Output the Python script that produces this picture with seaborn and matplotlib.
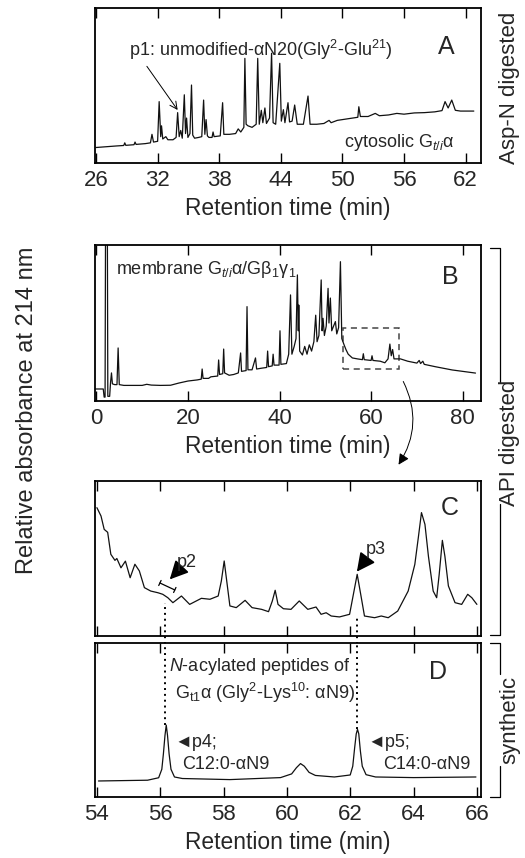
"""
HPLC chromatograms of Gt/i alpha digests (panels A-D), redrawn with seaborn.
"""

# %% ---- Requirements and constants
import pandas as pd
import seaborn as sns
import matplotlib.pyplot as plt
from matplotlib.patches import Rectangle, FancyArrowPatch
from matplotlib.lines import Line2D

# Panel A: Asp-N digest of cytosolic Gt/i alpha (trace)
a_time = [26.0, 27.0, 28.0, 28.7, 28.8, 28.9, 29.7, 29.8, 29.9, 30.8,
          31.3, 31.45, 31.6, 32.0, 32.15, 32.3, 32.38, 32.5, 32.8, 33.0,
          33.5, 33.8, 33.95, 34.1, 34.25, 34.4, 34.6, 34.72, 34.82, 34.95,
          35.15, 35.3, 35.42, 35.6, 36.0, 36.3, 36.48, 36.6, 36.72, 36.85,
          37.0, 37.3, 37.4, 37.5, 38.1, 38.33, 38.45, 39.0, 39.6, 39.85,
          40.1, 40.4, 40.5, 40.62, 40.8, 41.2, 41.6, 41.75, 41.9, 42.1,
          42.25, 42.45, 42.6, 42.9, 43.1, 43.25, 43.5, 43.9, 44.05, 44.25,
          44.4, 44.7, 44.85, 45.1, 45.35, 45.6, 46.2, 46.65, 46.85, 47.5,
          48.2, 48.7, 48.9, 49.5, 50.0, 50.5, 51.0, 51.5, 51.6, 51.75,
          52.5, 53.2, 53.6, 54.5, 55.3, 56.0, 57.0, 58.0, 59.0, 59.7,
          60.0, 60.3, 60.65, 61.0, 61.5, 62.8]
a_abs = [10.0, 10.5, 11.0, 11.3, 13.0, 11.4, 11.8, 13.5, 12.0, 12.5,
         13.0, 18.5, 13.5, 14.0, 39.6, 17.0, 24.0, 15.5, 17.0, 15.0,
         15.0, 16.5, 32.5, 17.0, 21.0, 16.0, 44.0, 19.0, 29.0, 16.5,
         19.0, 50.3, 18.0, 16.0, 16.5, 17.0, 40.6, 18.5, 28.0, 17.5,
         16.5, 16.5, 20.0, 17.0, 17.5, 38.9, 18.5, 18.5, 19.0, 22.0,
         20.0, 23.0, 67.5, 25.0, 24.0, 23.0, 25.0, 67.5, 25.0, 34.0,
         26.0, 35.5, 25.5, 29.0, 70.8, 26.0, 25.0, 64.3, 27.0, 34.4,
         26.0, 38.9, 26.5, 27.0, 37.4, 25.0, 25.0, 43.2, 25.0, 25.0,
         25.5, 27.5, 26.0, 27.5, 28.0, 28.5, 29.0, 29.5, 36.3, 30.0,
         30.0, 32.0, 30.5, 31.0, 32.0, 31.5, 32.3, 32.5, 33.0, 33.8,
         39.6, 35.5, 40.6, 34.0, 33.5, 33.5]

# Panel B: API digest of membrane Gt/i alpha / Gbeta1gamma1
b_time = [-0.3, 1.5, 1.7, 1.9, 2.0, 2.4, 2.5, 2.9, 3.1, 3.3,
          3.5, 4.0, 4.5, 4.75, 5.0, 6.0, 8.0, 10.0, 11.0, 12.0,
          14.0, 16.2, 18.0, 20.0, 22.0, 22.9, 23.1, 23.3, 24.5, 25.0,
          26.5, 26.7, 26.9, 27.6, 27.8, 28.0, 29.0, 30.0, 31.0, 31.5,
          31.7, 32.7, 32.9, 33.1, 34.0, 34.75, 35.0, 36.0, 37.2, 37.4,
          37.6, 38.4, 38.6, 38.8, 39.9, 40.1, 40.3, 41.5, 42.0, 42.4,
          42.7, 43.2, 43.6, 43.9, 44.1, 44.2, 44.4, 45.0, 45.5, 46.0,
          46.5, 47.0, 47.5, 47.9, 48.2, 48.6, 49.1, 49.3, 49.5, 49.8,
          50.2, 50.6, 50.8, 51.1, 51.4, 51.8, 52.2, 52.5, 52.9, 53.3,
          53.6, 54.1, 54.5, 55.0, 55.9, 57.0, 58.1, 58.3, 58.5, 60.0,
          60.2, 60.4, 62.0, 63.0, 63.7, 64.1, 64.4, 64.7, 65.0, 66.4,
          68.0, 70.0, 70.5, 70.8, 71.3, 71.6, 74.0, 77.7, 80.0, 82.8]
b_abs = [7.7, 7.7, 2.5, 2.5, 110.0, 110.0, 3.0, 3.0, 12.0, 18.0,
         11.0, 10.5, 10.5, 34.0, 10.5, 10.0, 10.0, 10.0, 10.7, 10.2,
         10.0, 10.1, 11.5, 12.8, 13.5, 14.0, 20.5, 14.5, 14.5, 15.5,
         16.0, 26.3, 17.0, 17.5, 33.3, 18.0, 16.5, 17.0, 18.0, 30.8,
         19.0, 19.5, 60.5, 20.0, 20.0, 27.6, 20.5, 21.0, 21.5, 32.0,
         22.0, 22.5, 30.0, 23.0, 23.0, 45.0, 23.5, 24.0, 30.0, 68.0,
         30.0, 35.0, 40.0, 80.8, 45.0, 61.5, 32.0, 29.5, 35.0, 30.0,
         36.0, 32.0, 38.0, 55.0, 38.0, 42.0, 77.6, 45.0, 53.0, 42.0,
         48.0, 72.2, 50.0, 66.0, 45.0, 48.0, 50.9, 43.0, 47.0, 89.3,
         40.0, 36.0, 33.0, 30.0, 27.6, 27.0, 26.5, 30.3, 26.5, 26.0,
         29.0, 26.0, 25.5, 24.5, 27.0, 36.5, 29.0, 33.0, 27.0, 27.0,
         25.5, 24.3, 26.0, 24.0, 25.5, 23.5, 22.0, 19.9, 19.0, 17.9]

# Panel C: zoom of B between 54 and 66 min
c_time = [54.0, 54.13, 54.23, 54.34, 54.44, 54.57, 54.63, 54.76, 54.9, 55.05,
          55.2, 55.34, 55.5, 55.7, 55.93, 56.08, 56.24, 56.4, 56.67, 56.93,
          57.1, 57.3, 57.57, 57.83, 57.93, 58.02, 58.1, 58.2, 58.4, 58.68,
          58.9, 59.2, 59.42, 59.54, 59.63, 59.72, 59.89, 60.13, 60.39, 60.66,
          60.92, 61.08, 61.24, 61.4, 61.66, 61.98, 62.1, 62.22, 62.35, 62.45,
          62.77, 62.98, 63.2, 63.5, 63.83, 64.04, 64.15, 64.25, 64.36, 64.47,
          64.62, 64.73, 64.81, 64.91, 64.99, 65.1, 65.31, 65.52, 65.71, 65.84,
          66.0]
c_abs = [82.8, 77.4, 68.8, 66.9, 52.7, 48.8, 50.0, 44.0, 48.3, 37.6,
         46.3, 42.0, 31.2, 29.0, 27.9, 26.9, 24.7, 21.5, 25.8, 20.4,
         22.2, 24.3, 23.7, 25.8, 35.5, 48.4, 35.5, 19.4, 18.3, 23.0,
         18.3, 17.2, 15.7, 22.6, 29.5, 20.4, 17.6, 17.2, 22.6, 17.2,
         18.7, 14.0, 15.0, 12.9, 12.3, 14.0, 26.9, 39.8, 24.7, 12.9,
         11.8, 12.9, 11.8, 16.1, 29.0, 46.2, 63.4, 79.6, 72.0, 51.4,
         29.0, 24.7, 39.8, 61.7, 51.4, 32.3, 21.5, 20.4, 26.9, 24.7,
         20.4]

# Panel D: synthetic N-acylated peptides
d_time = [54.05, 55.6, 55.95, 56.05, 56.1, 56.15, 56.19, 56.23, 56.28, 56.34,
          56.45, 56.7, 58.2, 59.8, 60.15, 60.3, 60.43, 60.55, 60.7, 60.9,
          61.5, 62.0, 62.08, 62.14, 62.19, 62.23, 62.27, 62.32, 62.38, 62.5,
          62.8, 64.0, 65.97]
d_abs = [10.4, 10.9, 12.5, 18.0, 28.0, 40.0, 46.7, 40.0, 28.0, 18.0,
         13.0, 12.0, 11.3, 12.6, 15.0, 19.0, 21.7, 20.0, 16.0, 14.0,
         13.0, 14.3, 20.0, 32.0, 41.0, 43.9, 41.0, 30.0, 20.0, 14.5,
         13.0, 12.6, 13.0]

a_ticks = [26, 32, 38, 44, 50, 56, 62]
b_ticks = [0, 20, 40, 60, 80]
cd_ticks = [54, 56, 58, 60, 62, 64, 66]
p_times = [56.15, 62.22]        # p4 / p5 retention times (dotted guides)
box_time = [53.8, 66.2]         # zoom window drawn in B
box_abs = [20.5, 47.0]

W, H = 525, 858

# %% ---- Style
sns.set_style('white')
plt.rcParams['font.family'] = ['Liberation Sans', 'DejaVu Sans']
plt.rcParams['mathtext.fontset'] = 'custom'
plt.rcParams['mathtext.rm'] = 'Liberation Sans'
plt.rcParams['mathtext.it'] = 'Liberation Sans:italic'
plt.rcParams['mathtext.default'] = 'regular'

head = dict(arrowstyle='-|>,head_length=0.7,head_width=0.35', fc='k',
            ec='k', lw=1.2, mutation_scale=16, shrinkA=1, shrinkB=0,
            relpos=(0.15, 0.15))


def frac(x, y):
    return x / W, 1 - y / H


def make_axes(fig, top, bottom):
    return fig.add_axes([95 / W, 1 - bottom / H, 386 / W, (bottom - top) / H])


def setup(ax, xlim, ticks, labels=True):
    ax.set_xlim(*xlim)
    ax.set_ylim(0, 100)
    ax.set_yticks([])
    ax.set_xticks(ticks)
    ax.tick_params(axis='x', direction='in', length=7, width=1.0,
                   top=True, bottom=True, labelsize=16, pad=5, color='k')
    for s in ax.spines.values():
        s.set_linewidth(1.3)
        s.set_color('k')
    if labels:
        ax.set_xlabel('Retention time (min)', fontsize=16.4, labelpad=4)
    else:
        ax.set_xticklabels([])
        ax.set_xlabel('')
    ax.set_ylabel('')


def trace(ax, t, v):
    df = pd.DataFrame({'time': t, 'abs': v})
    sns.lineplot(df, x='time', y='abs', ax=ax, sort=False, estimator=None,
                 color='#111111', lw=0.9)


# %% ---- Figure
fig = plt.figure(figsize=(W / 100, H / 100), dpi=100)

ax_a = make_axes(fig, 8, 163)
ax_b = make_axes(fig, 245, 401)
ax_c = make_axes(fig, 481, 636)
ax_d = make_axes(fig, 643, 797)

# A
trace(ax_a, a_time, a_abs)
setup(ax_a, (25.9, 63.5), a_ticks)
ax_a.annotate('p1: unmodified-αN20(Gly$^{2}$-Glu$^{21}$)',
              xy=(33.95, 34.2), xytext=(29.2, 73), ha='left', va='center',
              fontsize=13,
              arrowprops=dict(arrowstyle='->', color='k', lw=0.7,
                              shrinkA=1, shrinkB=0,
                              relpos=(0.05, 0.1)))
ax_a.text(60.15, 75, 'A', fontsize=18, ha='center', va='center')
ax_a.text(55.5, 13, r'cytosolic G$_{\mathit{t/i}}$α', fontsize=13,
          ha='center', va='center')

# B
trace(ax_b, b_time, b_abs)
setup(ax_b, (-0.3, 84), b_ticks)
ax_b.add_patch(Rectangle((box_time[0], box_abs[0]), box_time[1] - box_time[0],
                         box_abs[1] - box_abs[0], fill=False, ec='#444',
                         lw=1.1, ls=(0, (4, 3))))
ax_b.text(4.2, 84, r'membrane G$_{\mathit{t/i}}$α/Gβ$_{1}$γ$_{1}$',
          fontsize=13, ha='left', va='center')
ax_b.text(77.4, 79.5, 'B', fontsize=18, ha='center', va='center')

# curved arrow from the box in B to panel C
fig.add_artist(FancyArrowPatch(
    frac(402, 379), frac(397, 467), transform=fig.transFigure,
    arrowstyle='-|>', connectionstyle='arc3,rad=-0.3', color='k', lw=0.7,
    mutation_scale=16))

# C
trace(ax_c, c_time, c_abs)
setup(ax_c, (53.94, 66.13), cd_ticks, labels=False)
ax_c.text(65.15, 82.6, 'C', fontsize=18, ha='center', va='center')
ax_c.annotate('p2', xy=(56.3, 36.5), xytext=(56.85, 47.5), ha='center',
              va='center', fontsize=13, arrowprops=head)
ax_c.annotate('', xy=(55.99, 34.2), xytext=(56.46, 29.7),
              arrowprops=dict(arrowstyle='|-|,widthA=0.2,widthB=0.2',
                              color='k', lw=0.9, shrinkA=0, shrinkB=0))
ax_c.annotate('p3', xy=(62.21, 41.5), xytext=(62.8, 55.5), ha='center',
              va='center', fontsize=13, arrowprops=head)
ax_c.vlines(p_times[0], -5, 21.5, colors='k', lw=1.4,
            linestyles=(0, (1, 2)), clip_on=False)
ax_c.vlines(p_times[1], -5, 11.8, colors='k', lw=1.4,
            linestyles=(0, (1, 2)), clip_on=False)

# D
trace(ax_d, d_time, d_abs)
setup(ax_d, (53.94, 66.13), cd_ticks)
ax_d.vlines(p_times[0], 47, 100, colors='k', lw=1.4, linestyles=(0, (1, 2)))
ax_d.vlines(p_times[1], 44, 100, colors='k', lw=1.4, linestyles=(0, (1, 2)))
ax_d.text(59.15, 84.5, r'$\mathit{N}$-acylated peptides of', fontsize=13,
          ha='center', va='center',
          bbox=dict(fc='white', ec='none', pad=0.5))
ax_d.text(59.3, 67.6, r'G$_{t1}$α (Gly$^{2}$-Lys$^{10}$: αN9)', fontsize=13,
          ha='center', va='center',
          bbox=dict(fc='white', ec='none', pad=0.5))
ax_d.text(64.77, 81.3, 'D', fontsize=18, ha='center', va='center')
ax_d.text(56.46, 35.7, '◄p4;', fontsize=13, ha='left', va='center')
ax_d.text(56.68, 21.3, 'C12:0-αN9', fontsize=13, ha='left', va='center')
ax_d.text(62.53, 35.7, '◄p5;', fontsize=13, ha='left', va='center')
ax_d.text(63.03, 21.3, 'C14:0-αN9', fontsize=13, ha='left', va='center')

# common y label and right-hand group labels
fig.text(*frac(27, 410), 'Relative absorbance at 214 nm', rotation=90,
         ha='center', va='center', fontsize=17)
fig.text(*frac(510, 88), 'Asp-N digested', rotation=90, ha='center',
         va='center', fontsize=16)
fig.text(*frac(510, 443), 'API digested', rotation=90, ha='center',
         va='center', fontsize=16)
fig.text(*frac(510, 720), 'synthetic', rotation=90, ha='center',
         va='center', fontsize=16)


def bracket(y0, y1, ya, yb):
    for xs, ys in (([490, 500, 500], [y0, y0, ya]),
                   ([500, 500, 490], [yb, y1, y1])):
        pts = [frac(x, y) for x, y in zip(xs, ys)]
        fig.add_artist(Line2D([p[0] for p in pts], [p[1] for p in pts],
                              transform=fig.transFigure, color='k', lw=0.9))


bracket(248, 635, 382, 504)
bracket(643, 797, 674, 766)

fig.savefig('out.png', dpi=100)
